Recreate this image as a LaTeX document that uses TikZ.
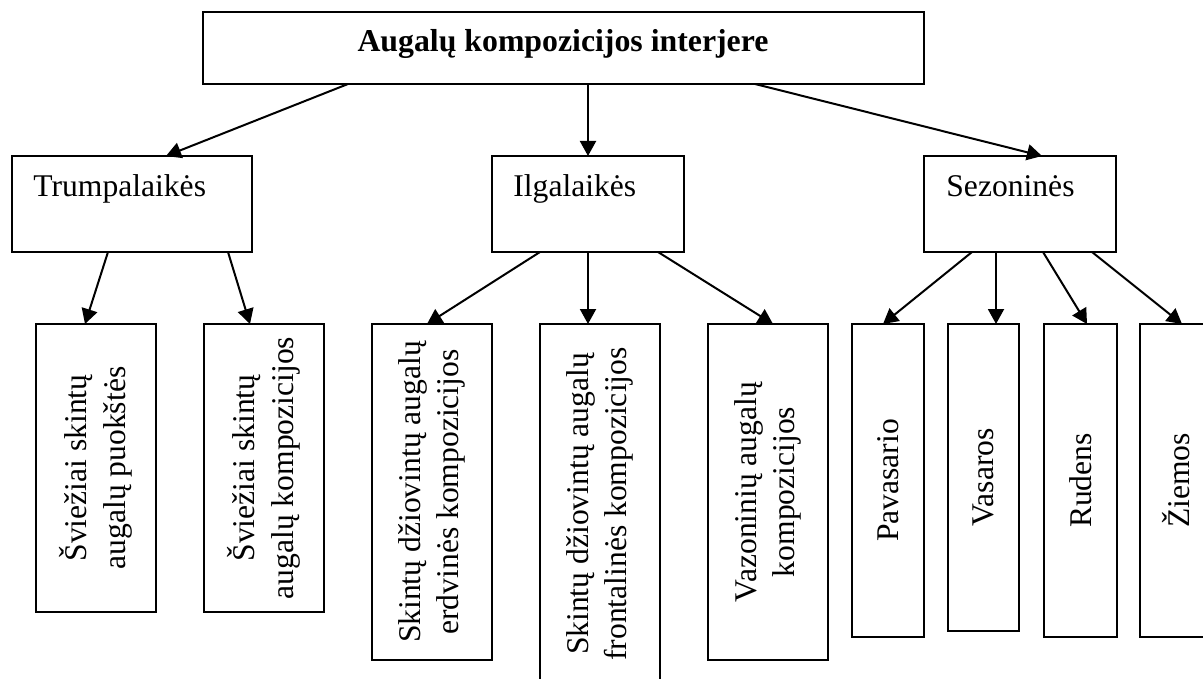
\documentclass[tikz,border=0pt]{standalone}
\usepackage{fontspec}
\setmainfont{Liberation Serif}
\usetikzlibrary{arrows.meta,calc}
\begin{document}
\begin{tikzpicture}[x=0.5pt,y=-0.5pt,
  box/.style={draw, line width=0.9pt, inner sep=0pt, outer sep=0pt, anchor=north west},
  txt/.style={font=\fontsize{15.8pt}{19.25pt}\selectfont, inner sep=0pt},
  vtxt/.style={txt, rotate=90, align=center},
  arr/.style={-{Triangle[length=7.5pt,width=8pt]}, line width=1pt}]
\useasboundingbox (0,0) rectangle (1203,679);
\clip (0,0) rectangle (1203,679);
\fill[white] (0,0) rectangle (1203,679);
% level 0
\node[box, minimum width=360.5pt, minimum height=36pt] (top) at (203,12) {};
\node[txt, font=\fontsize{15.9pt}{19pt}\selectfont\bfseries, anchor=base] (toptxt) at (563,52) {Augalų kompozicijos interjere};
% level 1
\node[box, minimum width=120pt, minimum height=48pt] (trump) at (12,156) {};
\node[txt, anchor=base west] (trumptxt) at (33,197) {Trumpalaikės};
\node[box, minimum width=96pt, minimum height=48pt] (ilg) at (492,156) {};
\node[txt, anchor=base west] (ilgtxt) at (513,197) {Ilgalaikės};
\node[box, minimum width=96pt, minimum height=48pt] (sez) at (924,156) {};
\node[txt, anchor=base west] (seztxt) at (946,197) {Sezoninės};
% level 2
\node[box, minimum width=60pt, minimum height=144pt] (b1) at (36,324) {};
\node[vtxt] (b1t) at (b1.center) {Šviežiai skintų\\augalų puokštės};
\node[box, minimum width=60pt, minimum height=144pt] (b2) at (204,324) {};
\node[vtxt] (b2t) at (b2.center) {Šviežiai skintų\\augalų kompozicijos};
\node[box, minimum width=60pt, minimum height=168pt] (b3) at (372,324) {};
\node[vtxt] (b3t) at (b3.center) {Skintų džiovintų augalų\\erdvinės kompozicijos};
\node[box, minimum width=60pt, minimum height=180pt] (b4) at (540,324) {};
\node[vtxt] (b4t) at (b4.center) {Skintų džiovintų augalų\\frontalinės kompozicijos};
\node[box, minimum width=60pt, minimum height=168pt] (b5) at (708,324) {};
\node[vtxt] (b5t) at (b5.center) {Vazoninių augalų\\kompozicijos};
\node[box, minimum width=36pt, minimum height=156.5pt] (b6) at (852,324) {};
\node[vtxt] (b6t) at (b6.center) {Pavasario};
\node[box, minimum width=35.5pt, minimum height=153.5pt] (b7) at (948,324) {};
\node[vtxt] (b7t) at (b7.center) {Vasaros};
\node[box, minimum width=36.5pt, minimum height=156.5pt] (b8) at (1044,324) {};
\node[vtxt] (b8t) at (b8.center) {Rudens};
\node[box, minimum width=36pt, minimum height=156.5pt] (b9) at (1140,324) {};
\node[vtxt] (b9t) at (b9.center) {Žiemos};
% arrows from top
\draw[arr] ($(top.south west)+(145,0)$) -- ($(trump.north west)+(154,0)$);
\draw[arr] ($(top.south west)+(385,0)$) -- (ilg.north);
\draw[arr] ($(top.south west)+(552,0)$) -- ($(sez.north west)+(118,0)$);
% from Trumpalaikes
\draw[arr] ($(trump.south west)+(96,0)$) -- ($(b1.north west)+(49,0)$);
\draw[arr] ($(trump.south west)+(216,0)$) -- ($(b2.north west)+(46,0)$);
% from Ilgalaikes
\draw[arr] ($(ilg.south west)+(48,0)$) -- ($(b3.north west)+(55,0)$);
\draw[arr] (ilg.south) -- ($(b4.north west)+(48,0)$);
\draw[arr] ($(ilg.south west)+(166,0)$) -- ($(b5.north west)+(65,0)$);
% from Sezonines
\draw[arr] ($(sez.south west)+(48,0)$) -- ($(b6.north west)+(31,0)$);
\draw[arr] ($(sez.south west)+(72,0)$) -- ($(b7.north west)+(48,0)$);
\draw[arr] ($(sez.south west)+(119,0)$) -- ($(b8.north west)+(43,0)$);
\draw[arr] ($(sez.south west)+(168,0)$) -- ($(b9.north west)+(42,0)$);
\end{tikzpicture}
\end{document}
